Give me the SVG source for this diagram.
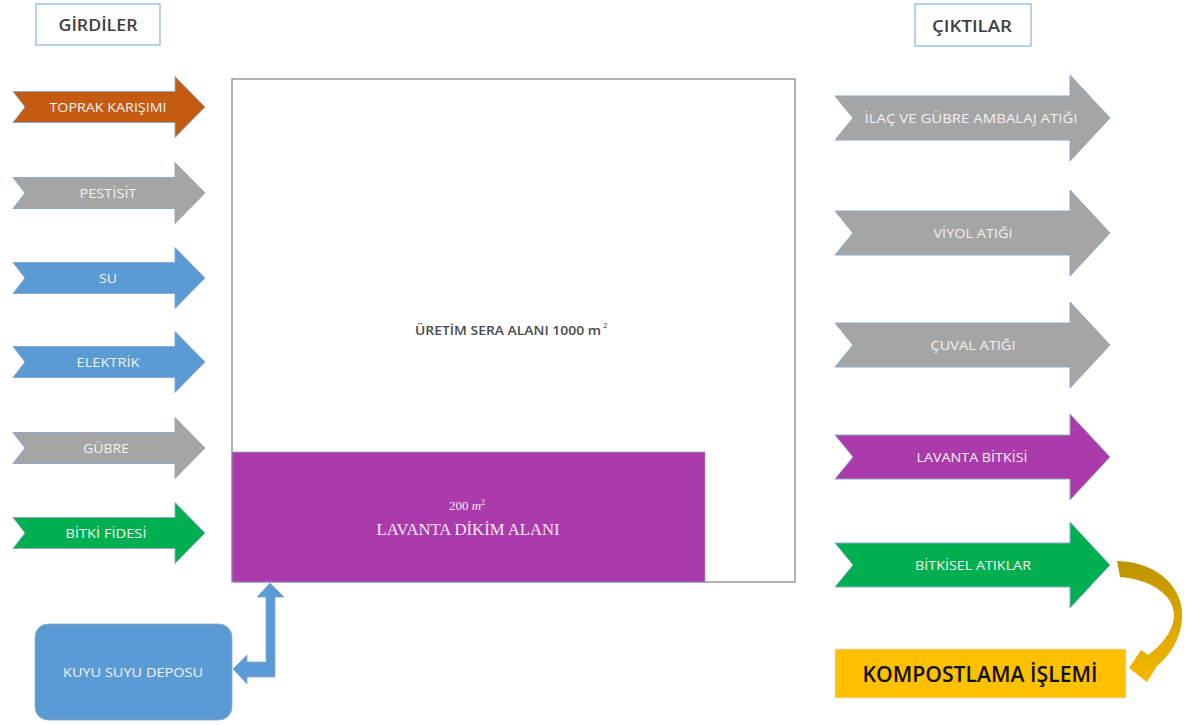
<svg xmlns="http://www.w3.org/2000/svg" width="1186" height="725" viewBox="0 0 1186 725">
<defs>
<style>
.title{font-family:"Open Sans","Liberation Sans",sans-serif;font-size:17px;font-weight:600;fill:#404040;text-anchor:middle}
.tbox{fill:#fff;stroke:#9DC3E6;stroke-width:1.5}
.lbl{font-family:"Open Sans","Liberation Sans",sans-serif;font-size:13px;fill:#F2F2F2;text-anchor:middle}
.arr{stroke:#8EA9C9;stroke-width:1}
.serif{font-family:"Liberation Serif",serif;fill:#F8E8F8;text-anchor:middle}
</style>
<polygon id="la" points="13,-15.5 175,-15.5 175,-30.5 205,0 175,30.5 175,15.5 13,15.5 25,0"/>
<polygon id="ra" points="835,-22 1070,-22 1070,-43 1110,0 1070,43 1070,22 835,22 853,0"/>
<linearGradient id="gold" x1="0" y1="0" x2="0" y2="1">
<stop offset="0" stop-color="#C09400"/>
<stop offset="1" stop-color="#F5B800"/>
</linearGradient>
</defs>
<rect width="1186" height="725" fill="#fff"/>

<g id="girdiler">
<rect class="tbox" x="36" y="4" width="124" height="41"/>
<text class="title" x="98" y="31" textLength="79" lengthAdjust="spacingAndGlyphs">GİRDİLER</text>
</g>
<g id="ciktilar">
<rect class="tbox" x="915" y="4" width="116" height="42"/>
<text class="title" x="972" y="32" textLength="80" lengthAdjust="spacingAndGlyphs">ÇIKTILAR</text>
</g>

<g id="sera">
<rect x="232" y="79" width="563" height="503" fill="#fff" stroke="#7F7F7F" stroke-width="1.2"/>
<text x="508" y="335" font-family="Open Sans, Liberation Sans, sans-serif" font-size="13" font-weight="600" fill="#4A4A4A" text-anchor="middle" textLength="186" lengthAdjust="spacingAndGlyphs">ÜRETİM SERA ALANI 1000 m</text>
<text x="603" y="328" font-family="Open Sans, Liberation Sans, sans-serif" font-size="8" fill="#4A4A4A">2</text>
</g>
<g id="lavanta-alani">
<rect x="232" y="452" width="473" height="130" fill="#AB3BAB" stroke="#8EA9C9" stroke-width="0.8"/>
<text class="serif" x="467" y="510" font-size="13">200 <tspan font-style="italic">m</tspan><tspan dy="-5" font-size="8">2</tspan></text>
<text class="serif" x="468" y="535" font-size="17" textLength="183" lengthAdjust="spacingAndGlyphs">LAVANTA  DİKİM ALANI</text>
</g>

<g id="in-toprak" transform="translate(0,107)">
<use href="#la" fill="#C55A11" class="arr"/>
<text class="lbl" x="108" y="5" textLength="117" lengthAdjust="spacingAndGlyphs">TOPRAK KARIŞIMI</text>
</g>
<g id="in-pestisit" transform="translate(0,193)">
<use href="#la" fill="#A5A5A5" class="arr"/>
<text class="lbl" x="108" y="5" textLength="57" lengthAdjust="spacingAndGlyphs">PESTİSİT</text>
</g>
<g id="in-su" transform="translate(0,278)">
<use href="#la" fill="#5B9BD5" class="arr"/>
<text class="lbl" x="108" y="5" textLength="18" lengthAdjust="spacingAndGlyphs">SU</text>
</g>
<g id="in-elektrik" transform="translate(0,362)">
<use href="#la" fill="#5B9BD5" class="arr"/>
<text class="lbl" x="108" y="5" textLength="63" lengthAdjust="spacingAndGlyphs">ELEKTRİK</text>
</g>
<g id="in-gubre" transform="translate(0,448)">
<use href="#la" fill="#A5A5A5" class="arr"/>
<text class="lbl" x="106" y="5" textLength="46" lengthAdjust="spacingAndGlyphs">GÜBRE</text>
</g>
<g id="in-fide" transform="translate(0,533)">
<use href="#la" fill="#00B050" class="arr"/>
<text class="lbl" x="106" y="5" textLength="81" lengthAdjust="spacingAndGlyphs">BİTKİ FİDESİ</text>
</g>

<g id="out-ambalaj" transform="translate(0,118)">
<use href="#ra" fill="#A5A5A5" class="arr"/>
<text class="lbl" x="971" y="5" textLength="213" lengthAdjust="spacingAndGlyphs">İLAÇ VE GÜBRE AMBALAJ ATIĞI</text>
</g>
<g id="out-viyol" transform="translate(0,233)">
<use href="#ra" fill="#A5A5A5" class="arr"/>
<text class="lbl" x="973" y="5" textLength="79" lengthAdjust="spacingAndGlyphs">VİYOL ATIĞI</text>
</g>
<g id="out-cuval" transform="translate(0,345)">
<use href="#ra" fill="#A5A5A5" class="arr"/>
<text class="lbl" x="973" y="5" textLength="85" lengthAdjust="spacingAndGlyphs">ÇUVAL ATIĞI</text>
</g>
<g id="out-lavanta" transform="translate(0,457)">
<use href="#ra" fill="#AB3BAB" class="arr"/>
<text class="lbl" x="972" y="5" textLength="111" lengthAdjust="spacingAndGlyphs">LAVANTA  BİTKİSİ</text>
</g>
<g id="out-bitkisel" transform="translate(0,565)">
<use href="#ra" fill="#00B050" class="arr"/>
<text class="lbl" x="973" y="5" textLength="116" lengthAdjust="spacingAndGlyphs">BİTKİSEL ATIKLAR</text>
</g>

<g id="kompost">
<rect x="835" y="649" width="291" height="49" fill="#FFC000" stroke="#E0E0E0" stroke-width="0.8"/>
<text x="980" y="682" font-family="Open Sans, Liberation Sans, sans-serif" font-size="21" font-weight="600" fill="#111" text-anchor="middle" textLength="235" lengthAdjust="spacingAndGlyphs">KOMPOSTLAMA İŞLEMİ</text>
</g>

<g id="kuyu">
<rect x="35" y="624" width="197" height="96" rx="13" fill="#5B9BD5" stroke="#8EA9C9" stroke-width="0.8"/>
<text class="lbl" x="133" y="677" textLength="140" lengthAdjust="spacingAndGlyphs">KUYU SUYU DEPOSU</text>
</g>

<g id="connectors">
<path d="M270,583 L284,597 L275,597 L275,677 L247,677 L247,684 L233,669 L247,655 L247,662 L266,662 L266,597 L257,597 Z" fill="#5B9BD5" stroke="#8EA9C9" stroke-width="0.8"/>
<path d="M1117,561 C1160,562 1185,590 1182,620 C1180,640 1170,655 1157,666 L1147,682 L1129,668 L1141,650 L1148,655 C1162,645 1172,632 1174,618 C1176,598 1155,580 1120,577 Z" fill="url(#gold)"/>
</g>
</svg>
